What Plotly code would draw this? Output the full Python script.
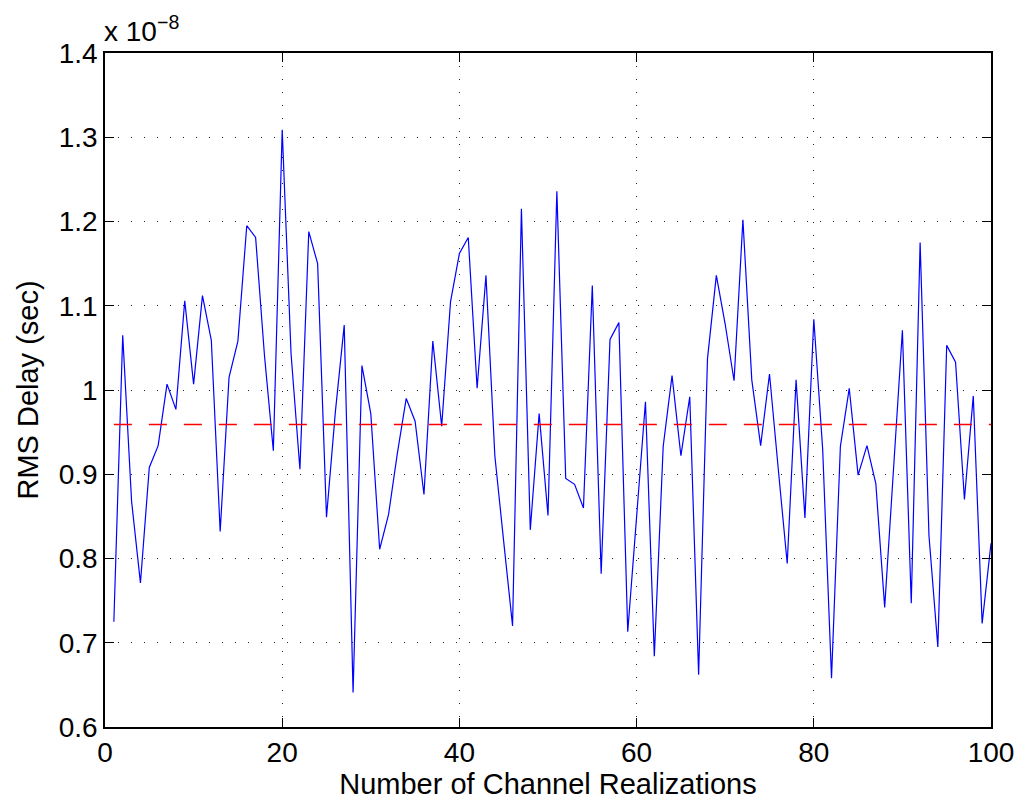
import plotly.graph_objects as go

# Channel realization index
realizations = list(range(1, 101))

# RMS delay values in units of 1e-8 s
rms_delay_e8 = [
    0.725, 1.065, 0.868, 0.771, 0.908, 0.934, 1.007, 0.977, 1.106, 1.007,
    1.112, 1.059, 0.832, 1.015, 1.058, 1.195, 1.181, 1.041, 0.928, 1.309,
    1.043, 0.906, 1.188, 1.150, 0.849, 0.974, 1.077, 0.641, 1.029, 0.972,
    0.811, 0.852, 0.925, 0.990, 0.963, 0.876, 1.058, 0.957, 1.105, 1.162,
    1.181, 1.002, 1.136, 0.922, 0.820, 0.720, 1.215, 0.834, 0.972, 0.851,
    1.236, 0.895, 0.888, 0.860, 1.124, 0.782, 1.060, 1.080, 0.713, 0.850,
    0.986, 0.684, 0.933, 1.017, 0.922, 0.992, 0.662, 1.037, 1.136, 1.078,
    1.011, 1.202, 1.012, 0.934, 1.019, 0.905, 0.794, 1.012, 0.848, 1.084,
    0.930, 0.658, 0.933, 1.002, 0.899, 0.934, 0.889, 0.742, 0.905, 1.071,
    0.747, 1.175, 0.827, 0.695, 1.053, 1.033, 0.870, 0.993, 0.723, 0.818,
]

# Mean RMS delay (units of 1e-8 s)
mean_delay_e8 = 0.959

x_ticks = [0, 20, 40, 60, 80, 100]
y_ticks = [0.6, 0.7, 0.8, 0.9, 1.0, 1.1, 1.2, 1.3, 1.4]
y_tick_labels = ["0.6", "0.7", "0.8", "0.9", "1", "1.1", "1.2", "1.3", "1.4"]

FONT = "Liberation Sans, Arial, Helvetica, sans-serif"
FS = 28
TFS = 29

fig = go.Figure()
fig.add_trace(go.Scatter(
    x=realizations, y=rms_delay_e8, mode="lines",
    line=dict(color="#0000ff", width=1.2), showlegend=False,
))
fig.add_trace(go.Scatter(
    x=[realizations[0], realizations[-1]], y=[mean_delay_e8, mean_delay_e8],
    mode="lines", line=dict(color="#ff0000", width=1.4, dash="18px,17px"),
    showlegend=False,
))

axis_common = dict(
    showline=True, linecolor="black", linewidth=1.5, mirror="ticks",
    ticks="inside", ticklen=9, tickcolor="black", tickwidth=1,
    showgrid=True, gridcolor="#222222", gridwidth=1, griddash="1px,12px",
    zeroline=False, tickfont=dict(family=FONT, size=FS, color="black"),
)

fig.update_xaxes(
    range=[0, 100], tickvals=x_ticks, ticktext=[str(v) for v in x_ticks],
    title=dict(text="Number of Channel Realizations",
               font=dict(family=FONT, size=TFS, color="black"), standoff=5),
    **axis_common,
)
fig.update_yaxes(
    range=[0.6, 1.4], tickvals=y_ticks, ticktext=y_tick_labels,
    title=dict(text="RMS Delay (sec)",
               font=dict(family=FONT, size=TFS, color="black"), standoff=12),
    **axis_common,
)

fig.add_annotation(
    xref="paper", yref="paper", x=0, y=1, xanchor="left", yanchor="bottom",
    text="x 10<sup>−8</sup>", showarrow=False, yshift=4, xshift=-3,
    font=dict(family=FONT, size=FS, color="black"),
)

fig.update_layout(
    width=1026, height=806,
    margin=dict(l=105, r=24, t=53, b=74),
    paper_bgcolor="white", plot_bgcolor="white",
    font=dict(family=FONT, size=FS, color="black"),
)

fig.write_html("out.html")
